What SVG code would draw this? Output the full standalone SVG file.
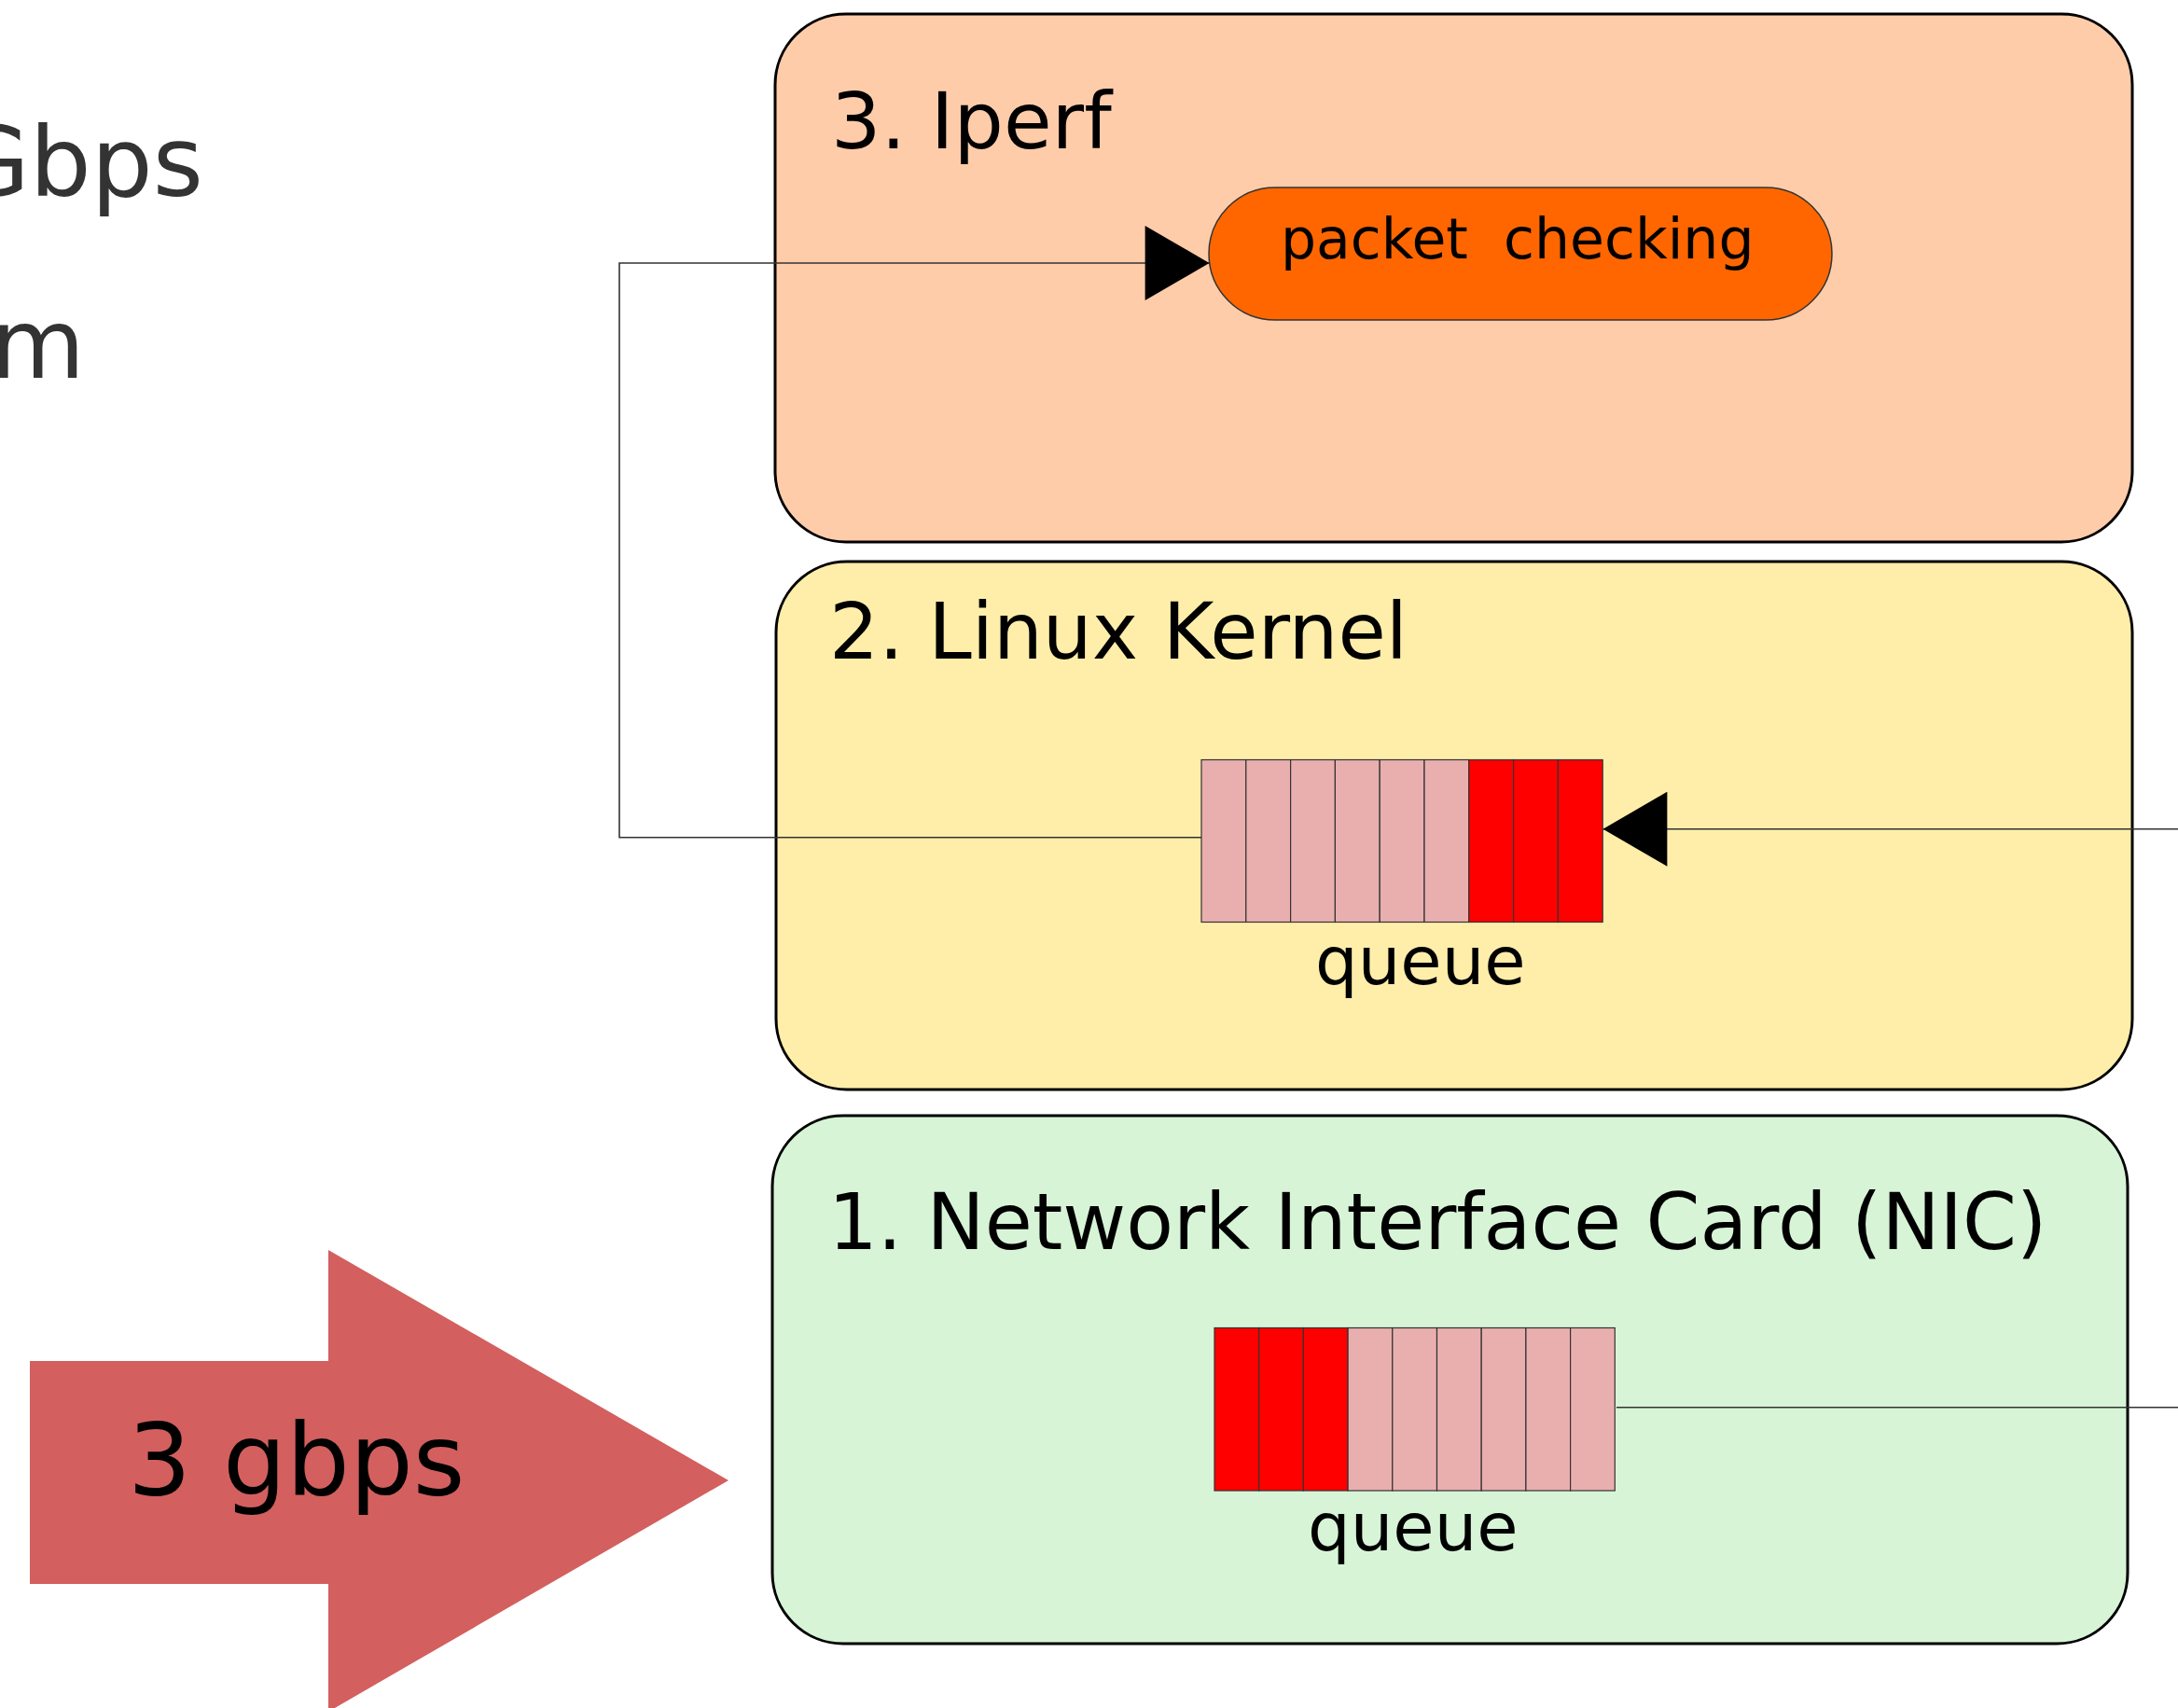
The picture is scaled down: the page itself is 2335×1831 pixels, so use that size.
<svg xmlns="http://www.w3.org/2000/svg" width="2335" height="1831" viewBox="0 0 2335 1831">
  <style>
    .t { font-family: "DejaVu Sans", "Liberation Sans", sans-serif; fill: #000; }
    .box { stroke: #000; stroke-width: 3; }
    .cell { stroke: #333; stroke-width: 1.2; }
    .pink { fill: #e9afaf; }
    .red { fill: #ff0000; }
    .conn { fill: none; stroke: #333; stroke-width: 1.6; }
  </style>
  <defs>
    <marker id="arrow" markerUnits="userSpaceOnUse" markerWidth="70" markerHeight="80" viewBox="0 0 68 79" refX="68" refY="39.5" orient="auto">
      <path d="M0,0 L68,39.5 L0,79 Z" fill="#000"/>
    </marker>
  </defs>

  <g id="slide-text">
    <text class="t" x="218" y="210" font-size="104" text-anchor="end" style="fill:#333333">Gbps</text>
    <text class="t" x="91" y="405" font-size="104" text-anchor="end" style="fill:#333333">m</text>
  </g>

  <g id="input-arrow">
    <polygon points="32,1459 352,1459 352,1340 781,1587 352,1835 352,1698 32,1698" fill="#d35f5f"/>
    <text class="t" x="137" y="1602" font-size="107">3 gbps</text>
  </g>

  <g id="iperf">
    <rect class="box" x="831" y="15" width="1455" height="566" rx="76" ry="76" fill="#ffccaa"/>
    <text class="t" x="891" y="159" font-size="84">3. Iperf</text>
  </g>

  <g id="packet-checking">
    <rect x="1296" y="201" width="668" height="142" rx="71" ry="71" fill="#ff6600" stroke="#333" stroke-width="1.5"/>
    <text class="t" x="1373" y="277" font-size="60" xml:space="preserve">packet  checking</text>
  </g>

  <g id="kernel">
    <rect class="box" x="832" y="602" width="1454" height="566" rx="76" ry="76" fill="#ffeeaa"/>
    <text class="t" x="889" y="706" font-size="83.5">2. Linux Kernel</text>
  </g>

  <g id="kernel-queue">
    <rect class="cell pink" x="1288" y="814.5" width="47.8" height="174"/>
    <rect class="cell pink" x="1335.8" y="814.5" width="47.8" height="174"/>
    <rect class="cell pink" x="1383.6" y="814.5" width="47.8" height="174"/>
    <rect class="cell pink" x="1431.4" y="814.5" width="47.8" height="174"/>
    <rect class="cell pink" x="1479.2" y="814.5" width="47.8" height="174"/>
    <rect class="cell pink" x="1527" y="814.5" width="47.8" height="174"/>
    <rect class="cell red" x="1574.8" y="814.5" width="47.8" height="174"/>
    <rect class="cell red" x="1622.6" y="814.5" width="47.8" height="174"/>
    <rect class="cell red" x="1670.4" y="814.5" width="47.8" height="174"/>
    <text class="t" x="1410" y="1055" font-size="72">queue</text>
  </g>

  <g id="nic">
    <rect class="box" x="828" y="1196" width="1453" height="566" rx="76" ry="76" fill="#d7f4d7"/>
    <text class="t" x="888" y="1339" font-size="83">1. Network Interface Card (NIC)</text>
  </g>

  <g id="nic-queue">
    <rect class="cell red" x="1302" y="1423.5" width="47.7" height="174.5"/>
    <rect class="cell red" x="1349.7" y="1423.5" width="47.7" height="174.5"/>
    <rect class="cell red" x="1397.4" y="1423.5" width="47.7" height="174.5"/>
    <rect class="cell pink" x="1445.1" y="1423.5" width="47.7" height="174.5"/>
    <rect class="cell pink" x="1492.8" y="1423.5" width="47.7" height="174.5"/>
    <rect class="cell pink" x="1540.5" y="1423.5" width="47.7" height="174.5"/>
    <rect class="cell pink" x="1588.2" y="1423.5" width="47.7" height="174.5"/>
    <rect class="cell pink" x="1635.9" y="1423.5" width="47.7" height="174.5"/>
    <rect class="cell pink" x="1683.6" y="1423.5" width="47.7" height="174.5"/>
    <text class="t" x="1402" y="1662" font-size="72">queue</text>
  </g>

  <g id="connectors">
    <path class="conn" d="M1288,897.7 H664 V282 H1296.5" marker-end="url(#arrow)"/>
    <path class="conn" d="M2340,888.7 H1718.5" marker-end="url(#arrow)"/>
    <path class="conn" d="M1733,1508.7 H2340"/>
  </g>
</svg>
